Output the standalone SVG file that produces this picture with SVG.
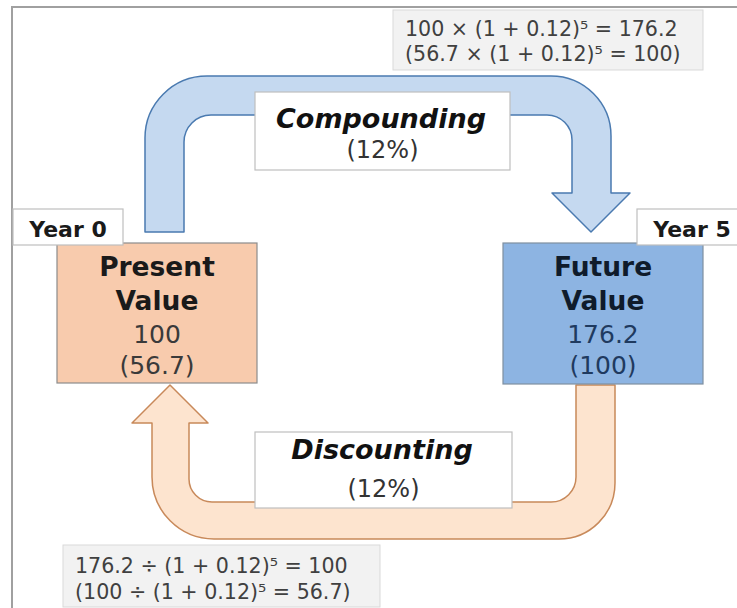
<svg xmlns="http://www.w3.org/2000/svg" width="737" height="608" viewBox="0 0 737 608">
<style>
text{font-family:"DejaVu Sans","Verdana",sans-serif;}
.title{font-size:26.5px;font-weight:bold;text-anchor:middle;}
.val{font-size:25px;text-anchor:middle;}
.year{font-size:22px;font-weight:bold;fill:#1a1a1a;}
.lbl{font-size:27px;font-weight:bold;font-style:italic;text-anchor:middle;fill:#111;}
.pct{font-size:24px;text-anchor:middle;fill:#333;}
.fml{font-size:20.6px;fill:#404040;}
.fbox{fill:#f2f2f2;stroke:#d9d9d9;stroke-width:1;}
.lbox{fill:#ffffff;stroke:#bfbfbf;stroke-width:1.2;}
</style>
<rect x="12" y="7" width="800" height="700" fill="#ffffff" stroke="#a0a0a0" stroke-width="2"/>
<g id="connectors">
<path id="compounding-arrow" d="M145 232 V138 A62 62 0 0 1 207 76 H551 A60 60 0 0 1 611 136 V193 H630 L591 232 L552 193 H572 V140 A25 25 0 0 0 547 115 H211 A27 27 0 0 0 184 142 V232 Z" fill="#c5d9f0" stroke="#4a7ab0" stroke-width="1.5" stroke-linejoin="round"/>
<path id="discounting-arrow" d="M615 385 V483 A56 56 0 0 1 559 539 H214 A62 62 0 0 1 152 477 V423 H132 L170 385 L208 423 H189 V479 A23 23 0 0 0 212 502 H551 A25 25 0 0 0 576 477 V385 Z" fill="#fde4cf" stroke="#c8895a" stroke-width="1.5" stroke-linejoin="round"/>
</g>
<g id="compounding-label">
<rect class="lbox" x="255" y="92" width="255" height="78"/>
<text class="lbl" x="381" y="128">Compounding</text>
<text class="pct" x="382.5" y="158">(12%)</text>
</g>
<g id="discounting-label">
<rect class="lbox" x="255" y="432" width="257" height="76"/>
<text class="lbl" x="382" y="459">Discounting</text>
<text class="pct" x="383.5" y="497">(12%)</text>
</g>
<g id="present-value">
<rect x="57" y="243" width="200" height="140" fill="#f8cbad" stroke="#8c8c8c" stroke-width="1.2"/>
<text class="title" x="157" y="276" fill="#1a1a1a">Present</text>
<text class="title" x="157" y="310" fill="#1a1a1a">Value</text>
<text class="val" x="157" y="343" fill="#3a3a3a">100</text>
<text class="val" x="157" y="374" fill="#3a3a3a">(56.7)</text>
</g>
<g id="year0">
<rect x="13" y="209" width="110" height="36" fill="#ffffff" stroke="#bfbfbf" stroke-width="1.2"/>
<text class="year" x="68" y="237" text-anchor="middle">Year 0</text>
</g>
<g id="future-value">
<rect x="503" y="243" width="200" height="141" fill="#8db4e2" stroke="#7f8fa0" stroke-width="1.2"/>
<text class="title" x="603" y="276" fill="#0f1b2b">Future</text>
<text class="title" x="603" y="310" fill="#0f1b2b">Value</text>
<text class="val" x="603" y="343" fill="#1f3a5f">176.2</text>
<text class="val" x="603" y="374" fill="#1f3a5f">(100)</text>
</g>
<g id="year5">
<rect x="637" y="209" width="110" height="36" fill="#ffffff" stroke="#bfbfbf" stroke-width="1.2"/>
<text class="year" x="692" y="237" text-anchor="middle">Year 5</text>
</g>
<g id="formula-top">
<rect class="fbox" x="393" y="10" width="310" height="60"/>
<text class="fml" x="405" y="36">100 × (1 + 0.12)⁵ = 176.2</text>
<text class="fml" x="405" y="61">(56.7 × (1 + 0.12)⁵ = 100)</text>
</g>
<g id="formula-bottom">
<rect class="fbox" x="63" y="545" width="317" height="62"/>
<text class="fml" x="75" y="573">176.2 ÷ (1 + 0.12)⁵ = 100</text>
<text class="fml" x="75" y="599">(100 ÷ (1 + 0.12)⁵ = 56.7)</text>
</g>
</svg>
